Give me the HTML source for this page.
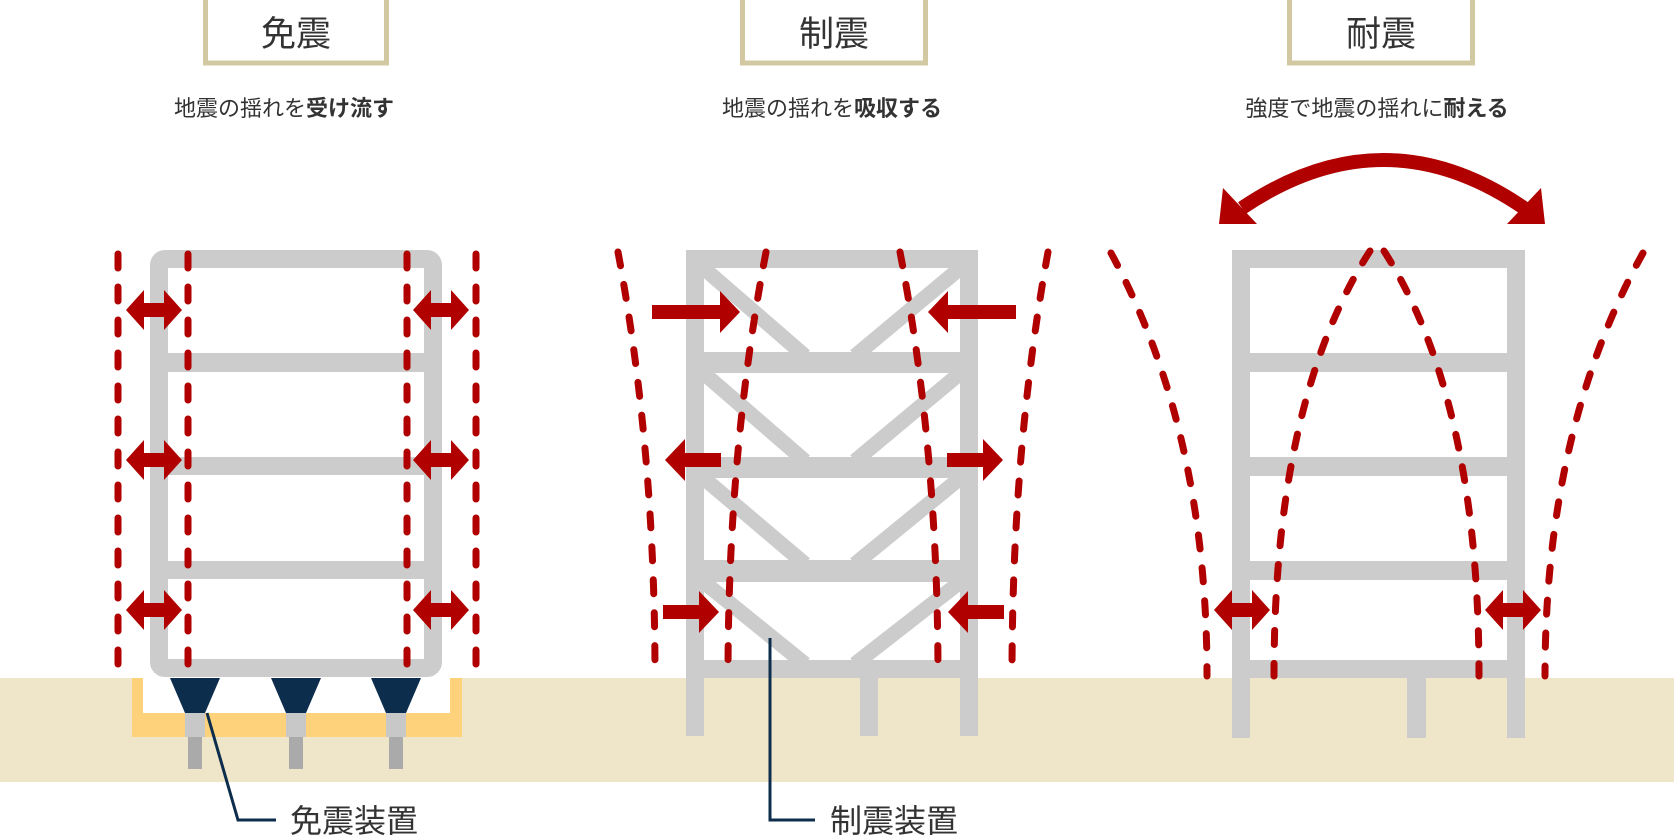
<!DOCTYPE html>
<html><head><meta charset="utf-8"><style>
html,body{margin:0;padding:0;background:#fff}
svg{display:block}
text{font-family:"Liberation Sans","Noto Sans CJK JP",sans-serif}
</style></head><body>
<svg width="1674" height="836" viewBox="0 0 1674 836" xmlns="http://www.w3.org/2000/svg">
<defs>
<g id="dbl"><polygon points="-28,0 -10,-20 -10,-7 10,-7 10,-20 28,0 10,20 10,7 -10,7 -10,20" fill="#b00000"/></g>
<g id="rar"><polygon points="-44,-7 24,-7 24,-21 44,0 24,21 24,7 -44,7" fill="#b00000"/></g>
<g id="rars"><polygon points="-28,-7 8,-7 8,-21 28,0 8,21 8,7 -28,7" fill="#b00000"/></g>
</defs>
<!-- headers -->
<rect x="205.5" y="-3" width="181" height="66" fill="#fff" stroke="#d2c9a2" stroke-width="5"/>
<rect x="742.5" y="-3" width="183" height="66" fill="#fff" stroke="#d2c9a2" stroke-width="5"/>
<rect x="1289.5" y="-3" width="183" height="66" fill="#fff" stroke="#d2c9a2" stroke-width="5"/>
<g font-size="35" fill="#333" text-anchor="middle">
<text x="296" y="46">免震</text><text x="834" y="46">制震</text><text x="1381" y="46">耐震</text>
</g>
<g font-size="22" fill="#333" text-anchor="middle">
<text x="284" y="116">地震の揺れを<tspan font-weight="bold">受け流す</tspan></text>
<text x="832" y="116">地震の揺れを<tspan font-weight="bold">吸収する</tspan></text>
<text x="1377" y="116">強度で地震の揺れに<tspan font-weight="bold">耐える</tspan></text>
</g>
<!-- ground -->
<rect x="0" y="678" width="1674" height="104" fill="#efe5c9"/>

<!-- building 1 -->
<path d="M132,678 H462 V737 H132 Z" fill="#fdd27a"/>
<rect x="143" y="678" width="307" height="35" fill="#fff"/>
<g>
<g transform="translate(195,0)"><polygon points="-25,678 25,678 10,713 -10,713" fill="#0d2d4d"/><rect x="-10" y="713" width="20" height="24" fill="#c8c8c8"/><rect x="-7" y="737" width="14" height="32" fill="#aaa"/></g>
<g transform="translate(296,0)"><polygon points="-25,678 25,678 10,713 -10,713" fill="#0d2d4d"/><rect x="-10" y="713" width="20" height="24" fill="#c8c8c8"/><rect x="-7" y="737" width="14" height="32" fill="#aaa"/></g>
<g transform="translate(396,0)"><polygon points="-25,678 25,678 10,713 -10,713" fill="#0d2d4d"/><rect x="-10" y="713" width="20" height="24" fill="#c8c8c8"/><rect x="-7" y="737" width="14" height="32" fill="#aaa"/></g>
</g>
<rect x="159" y="259" width="274" height="409" rx="6" fill="none" stroke="#cccccc" stroke-width="18"/>
<g fill="#cccccc"><rect x="159" y="353" width="274" height="19"/><rect x="159" y="457" width="274" height="18"/><rect x="159" y="561" width="274" height="18"/></g>
<g stroke="#b00000" stroke-width="7" stroke-linecap="round" stroke-dasharray="14 19" fill="none">
<line x1="118" y1="254" x2="118" y2="676"/><line x1="188" y1="254" x2="188" y2="676"/>
<line x1="407" y1="254" x2="407" y2="676"/><line x1="476" y1="254" x2="476" y2="676"/>
</g>
<use href="#dbl" x="154" y="310"/><use href="#dbl" x="441" y="310"/>
<use href="#dbl" x="154" y="460"/><use href="#dbl" x="441" y="460"/>
<use href="#dbl" x="154" y="610"/><use href="#dbl" x="441" y="610"/>
<polyline points="207,713 238,820 276,820" fill="none" stroke="#0d2d4d" stroke-width="3"/>
<text x="290" y="832" font-size="32" fill="#333">免震装置</text>

<!-- building 2 -->
<g stroke="#cccccc" stroke-width="15">
<line x1="700" y1="265" x2="805" y2="356"/><line x1="964" y1="265" x2="855" y2="356"/>
<line x1="700" y1="370" x2="805" y2="461"/><line x1="964" y1="370" x2="855" y2="461"/>
<line x1="700" y1="475" x2="805" y2="564"/><line x1="964" y1="475" x2="855" y2="564"/>
<line x1="700" y1="579" x2="805" y2="664"/><line x1="964" y1="579" x2="855" y2="664"/>
</g>
<g fill="#cccccc">
<path d="M692,250 H972 Q978,250 978,256 V268 H686 V256 Q686,250 692,250 Z"/>
<rect x="686" y="250" width="18" height="486"/><rect x="960" y="250" width="18" height="486"/>
<rect x="860" y="660" width="18" height="76"/>
<rect x="686" y="352" width="292" height="21"/><rect x="686" y="457" width="292" height="21"/>
<rect x="686" y="560" width="292" height="22"/><rect x="686" y="660" width="292" height="18"/>
</g>
<g stroke="#b00000" stroke-width="7" stroke-linecap="round" stroke-dasharray="14 19" fill="none">
<path d="M618,252 Q655,450 655,676"/><path d="M766,252 Q728,450 728,676"/>
<path d="M900,252 Q938,450 938,676"/><path d="M1048,252 Q1012,450 1012,676"/>
</g>
<use href="#rar" x="696" y="312"/>
<use href="#rar" transform="translate(972,312) scale(-1,1)"/>
<use href="#rars" transform="translate(693,460) scale(-1,1)"/>
<use href="#rars" x="975" y="460"/>
<use href="#rars" x="691" y="612"/>
<use href="#rars" transform="translate(976,612) scale(-1,1)"/>
<polyline points="770,638 770,820 815,820" fill="none" stroke="#0d2d4d" stroke-width="3"/>
<text x="830" y="832" font-size="32" fill="#333">制震装置</text>

<!-- building 3 -->
<g fill="#cccccc">
<path d="M1238,250 H1519 Q1525,250 1525,256 V268 H1232 V256 Q1232,250 1238,250 Z"/>
<rect x="1232" y="250" width="18" height="488"/><rect x="1507" y="250" width="18" height="488"/>
<rect x="1407" y="660" width="19" height="78"/>
<rect x="1232" y="353" width="293" height="19"/><rect x="1232" y="457" width="293" height="19"/>
<rect x="1232" y="561" width="293" height="19"/><rect x="1232" y="660" width="293" height="18"/>
</g>
<g stroke="#b00000" stroke-width="7" stroke-linecap="round" stroke-dasharray="14 19" fill="none">
<path d="M1111,253 Q1207,430 1207,676"/><path d="M1370,251 Q1274,400 1274,676"/>
<path d="M1384,251 Q1479,400 1479,676"/><path d="M1643,253 Q1545,430 1545,676"/>
</g>
<use href="#dbl" x="1242" y="610"/><use href="#dbl" x="1513" y="610"/>
<path d="M1242,208 Q1384,112 1524,208" fill="none" stroke="#b00000" stroke-width="14"/>
<polygon points="1219,224 1223,188 1257,224" fill="#b00000"/>
<polygon points="1545,224 1541,188 1507,224" fill="#b00000"/>
</svg>
</body></html>
